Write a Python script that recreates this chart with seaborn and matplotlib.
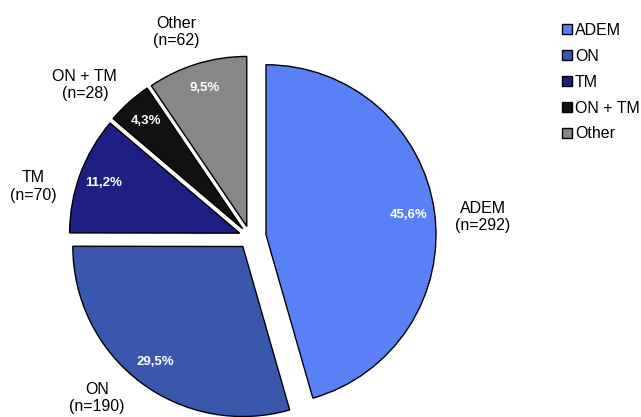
import matplotlib
matplotlib.use("Agg")
import numpy as np
import matplotlib.pyplot as plt
from matplotlib.patches import Patch
import seaborn as sns

categories = ["ADEM", "ON", "TM", "ON + TM", "Other"]
counts = [292, 190, 70, 28, 62]
percents = [45.6, 29.5, 11.2, 4.3, 9.5]
colors = ["#5A80F5", "#3A57AE", "#1D1F82", "#111111", "#878787"]
explode = [0.095, 0.07, 0.065, 0.065, 0.065]
# outer label placement (style): radius from pie centre and angular shift (deg)
label_radius = [1.376, 1.306, 1.311, 1.320, 1.280]
label_shift = [-3.1, -6.5, 7.1, 5.5, 2.6]

sns.set_theme(style="white")
plt.rcParams["font.family"] = ["Liberation Sans", "DejaVu Sans"]
plt.rcParams["text.color"] = "black"

fig = plt.figure(figsize=(6.41, 4.17), dpi=100)
ax = fig.add_axes([0, 0, 1, 1])

labels = [f"{c}\n(n={n})" for c, n in zip(categories, counts)]
pct_iter = iter(percents)

wedges, texts, autotexts = ax.pie(
    percents,
    labels=labels,
    colors=colors,
    explode=explode,
    startangle=90,
    counterclock=False,
    autopct=lambda p: f"{next(pct_iter):.1f}%".replace(".", ","),
    pctdistance=0.85,
    labeldistance=1.28,
    radius=1,
    wedgeprops=dict(edgecolor="black", linewidth=1.0),
    textprops=dict(fontsize=11.5, color="black"),
)
for w, t, r, s in zip(wedges, texts, label_radius, label_shift):
    mid = np.deg2rad((w.theta1 + w.theta2) / 2 + s)
    t.set_position((r * np.cos(mid), r * np.sin(mid)))
    t.set_ha("center")
    t.set_va("center")
for t in autotexts:
    t.set_color("white")
    t.set_fontweight("bold")
    t.set_fontsize(9.5)

R = 170.0
cx, cy = 250.0, 237.0
ax.set_xlim(-cx / R, (641 - cx) / R)
ax.set_ylim(-(417 - cy) / R, cy / R)
ax.set_axis_off()

handles = [Patch(facecolor=c, edgecolor="black", linewidth=1.0) for c in colors]
leg = fig.legend(
    handles, categories,
    loc="upper left", bbox_to_anchor=(0.876, 0.945),
    frameon=False, fontsize=11.5,
    handlelength=0.65, handleheight=0.6, handletextpad=0.2,
    labelspacing=0.68, borderpad=0, borderaxespad=0,
)
for t in leg.get_texts():
    t.set_color("black")

fig.savefig("out.png", dpi=100)
